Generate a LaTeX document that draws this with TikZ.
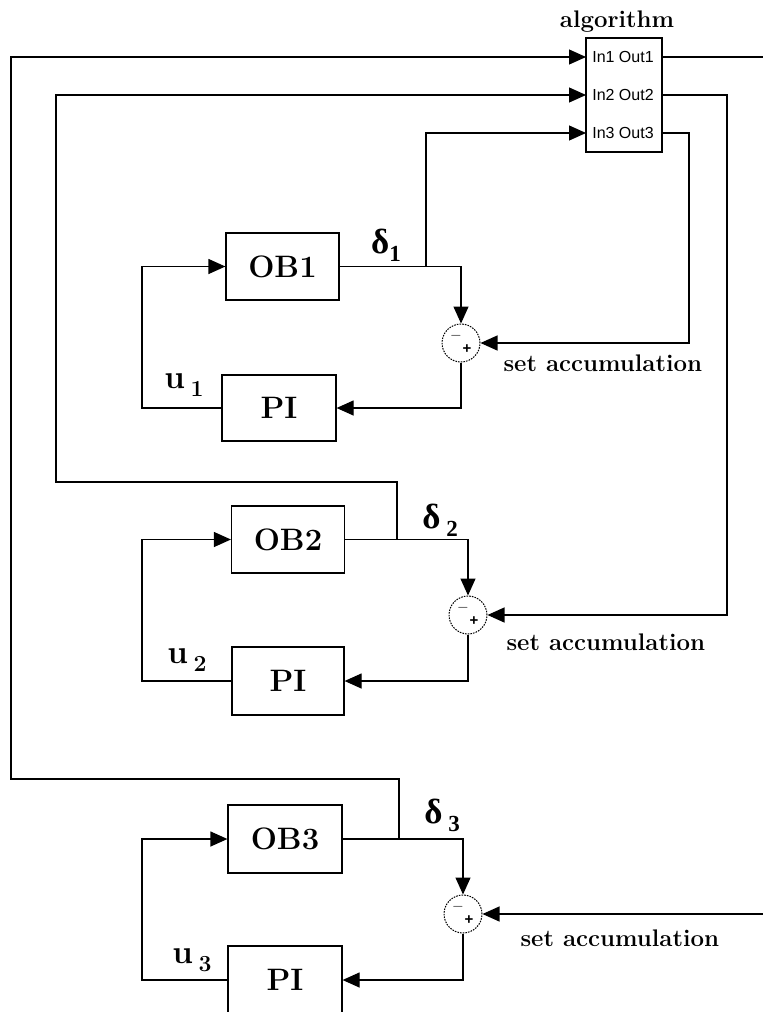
\documentclass[tikz,border=0pt]{standalone}
\usepackage{fix-cm}
\usepackage{amsfonts, amssymb, amsmath}
\usepackage{fontspec}
\newfontfamily\portfont{Liberation Sans}
\newfontfamily\grkfont{Liberation Serif}
\usepackage{tikz}
\usetikzlibrary{arrows,arrows.meta}
\usetikzlibrary{calc}
\tikzset{w/.style={line width=1.2pt}}
\tikzset{blk/.style={draw,w,inner sep=0pt,minimum width=113pt,minimum height=67pt,font=\fontsize{31}{31}\selectfont\bfseries}}
\tikzset{sm/.style={draw,circle,line width=1pt,dash pattern=on 1.6pt off 1.1pt,inner sep=0pt,minimum size=38pt}}
\tikzset{l/.style={font=\fontsize{24}{24}\selectfont\bfseries}}
\tikzset{d/.style={font=\grkfont\fontsize{35}{35}\selectfont\bfseries}}
\tikzset{u/.style={font=\fontsize{33}{33}\selectfont\bfseries}}
\tikzset{p/.style={font=\portfont\fontsize{16}{16}\selectfont}}
\tikzset{pm/.style={font=\portfont\fontsize{15}{15}\selectfont\bfseries}}
\newcommand{\sub}[1]{\raisebox{-8pt}{\fontsize{23}{23}\selectfont #1}}

\begin{document}
\begin{tikzpicture}[x=1pt,y=-1pt,>={Triangle[length=17pt,width=15pt]}]
          \clip (0,0) rectangle (763,1012);
          % algorithm block
          \node [draw,w,inner sep=0pt,minimum width=76pt,minimum height=114pt] (alg) at (624,95) {};
          \node [l] (algname) at (617,22) {algorithm};
          \node [p] (io1) at (623,57) {In1 Out1};
          \node [p] (io2) at (623,95) {In2 Out2};
          \node [p] (io3) at (623,133) {In3 Out3};
          \coordinate (in1) at (586,57);
          \coordinate (in2) at (586,95);
          \coordinate (in3) at (586,133);
          \coordinate (out1) at (662,57);
          \coordinate (out2) at (662,95);
          \coordinate (out3) at (662,133);
          % loop 1
          \node [blk] (ob1) at (282.5,266.5) {OB1};
          \node [blk,minimum width=114pt,minimum height=66pt] (pi1) at (279,408) {PI};
          \node [sm] (s1) at (461,343) {};
          \node [pm] at ($(s1)+(-5,-7)$) {$-$};
          \node [pm] at ($(s1)+(6,6)$) {+};
          \coordinate (j1) at (426,266.5);
          \coordinate (b1) at (142,408);
          \coordinate (r1) at (689,343);
          \draw [w,->] (ob1.east) -| (s1.north);
          \draw [w,->] (s1.south) |- (pi1.east);
          \draw [w,->] (pi1.west) -- (b1) |- (ob1.west);
          \draw [w,->] (j1) |- (in3);
          \draw [w,->] (out3) -| (r1) -- (s1.east);
          \node [d] at (386,245) {δ\sub{1}};
          \node [u] at (184,385) {u\,\sub{1}};
          \node [l,anchor=west] at (500,363) {set accumulation};
          % loop 2
          \node [blk] (ob2) at (288,539.5) {OB2};
          \node [blk,minimum width=112pt,minimum height=68pt] (pi2) at (288,681) {PI};
          \node [sm] (s2) at (468,615) {};
          \node [pm] at ($(s2)+(-5,-7)$) {$-$};
          \node [pm] at ($(s2)+(6,6)$) {+};
          \coordinate (j2) at (397,539.5);
          \coordinate (k2) at (56,482);
          \coordinate (b2) at (142,681);
          \coordinate (r2) at (727,615);
          \draw [w,->] (ob2.east) -| (s2.north);
          \draw [w,->] (s2.south) |- (pi2.east);
          \draw [w,->] (pi2.west) -- (b2) |- (ob2.west);
          \draw [w,->] (j2) |- (k2) |- (in2);
          \draw [w,->] (out2) -| (r2) -- (s2.east);
          \node [d] at (440,520) {δ\,\sub{2}};
          \node [u] at (187,660) {u\,\sub{2}};
          \node [l,anchor=west] at (503,642) {set accumulation};
          % loop 3
          \node [blk,minimum width=114pt,minimum height=68pt] (ob3) at (285,839) {OB3};
          \node [blk,minimum width=114pt,minimum height=68pt] (pi3) at (285,980) {PI};
          \node [sm] (s3) at (463,914) {};
          \node [pm] at ($(s3)+(-5,-7)$) {$-$};
          \node [pm] at ($(s3)+(6,6)$) {+};
          \coordinate (j3) at (399,839);
          \coordinate (k3) at (11,779);
          \coordinate (b3) at (142,980);
          \coordinate (e3) at (763,914);
          \coordinate (e1) at (763,57);
          \draw [w,->] (ob3.east) -| (s3.north);
          \draw [w,->] (s3.south) |- (pi3.east);
          \draw [w,->] (pi3.west) -- (b3) |- (ob3.west);
          \draw [w,->] (j3) |- (k3) |- (in1);
          \draw [w] (out1) -- (e1);
          \draw [w,->] (e3) -- (s3.east);
          \node [d] at (442,815) {δ\,\sub{3}};
          \node [u] at (192,960) {u\,\sub{3}};
          \node [l,anchor=west] at (517,938) {set accumulation};
        \end{tikzpicture}
\end{document}
